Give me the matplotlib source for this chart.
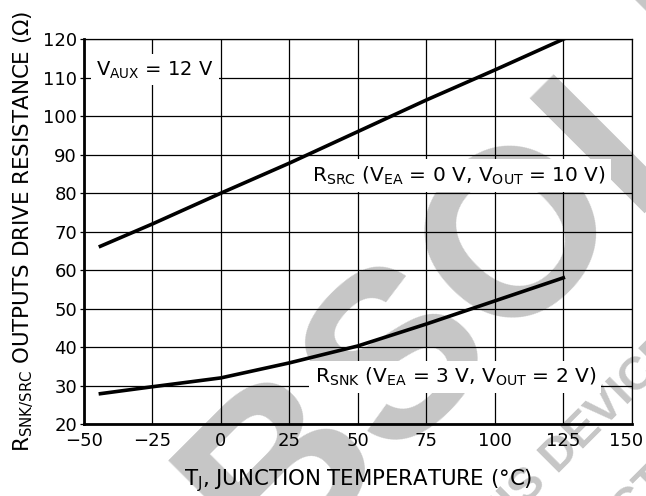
import matplotlib
matplotlib.use("Agg")
import matplotlib.pyplot as plt
import matplotlib.transforms as mtransforms

# junction temperature (C) and output drive resistance (ohm)
temp = [-44, -25, 0, 25, 50, 75, 100, 125]
r_src = [66.2, 72.0, 80.0, 87.8, 96.0, 104.2, 112.0, 120.0]
r_snk = [27.9, 29.7, 32.0, 35.9, 40.3, 46.0, 52.0, 58.0]

x_ticks = [-50, -25, 0, 25, 50, 75, 100, 125, 150]
x_labels = ["\u221250", "\u221225", "0", "25", "50", "75", "100", "125", "150"]
y_ticks = [20, 30, 40, 50, 60, 70, 80, 90, 100, 110, 120]

plt.rcParams['font.family'] = ['DejaVu Sans']
plt.rcParams['mathtext.fontset'] = 'custom'
plt.rcParams['mathtext.rm'] = 'DejaVu Sans'

fig = plt.figure(figsize=(6.46, 4.96), dpi=100)
ax = fig.add_axes([0.130, 0.145, 0.848, 0.776])
ax.patch.set_alpha(0)

# watermark behind everything
wm = '#c6c6c6'
fig.text(556/646, 1 - 206/496, "OBSOLETE", fontsize=170, fontweight='bold', color=wm,
         family='Liberation Sans', rotation=45, ha='center', va='center',
         rotation_mode='anchor', zorder=-5)
fig.text(472/646, 1 - 560/496, "THIS DEVICE IS NO LONGER", fontsize=34, fontweight='bold',
         family='Liberation Sans', color=wm, rotation=45, ha='left', va='baseline',
         rotation_mode='anchor', zorder=-5)
fig.text(465/646, 1 - 690/496, "IN PRODUCTION", fontsize=34, fontweight='bold',
         family='Liberation Sans', color=wm, rotation=45, ha='left', va='baseline',
         rotation_mode='anchor', zorder=-5)

ax.plot(temp, r_src, color='black', lw=2.6, zorder=3)
ax.plot(temp, r_snk, color='black', lw=2.6, zorder=3)

ax.set_xlim(-50, 150)
ax.set_ylim(20, 120)
ax.set_xticks(x_ticks)
ax.set_xticklabels(x_labels)
ax.set_yticks(y_ticks)
ax.grid(True, color='black', lw=0.9)
ax.set_axisbelow(True)
ax.tick_params(axis='x', length=0, labelsize=13, pad=6)
ax.tick_params(axis='y', length=3, width=0.9, labelsize=13, pad=2)

# last x label sits a little inside the figure edge
lab = ax.get_xticklabels()[-1]
lab.set_transform(lab.get_transform() + mtransforms.ScaledTranslation(-6/100, 0, fig.dpi_scale_trans))

for s in ['left', 'bottom']:
    ax.spines[s].set_linewidth(2.0)
for s in ['top', 'right']:
    ax.spines[s].set_linewidth(0.9)

ax.set_xlabel(r"T$_\mathregular{J}$, JUNCTION TEMPERATURE (°C)", fontsize=15.3, labelpad=12)
ax.set_ylabel(r"R$_\mathregular{SNK/SRC}$ OUTPUTS DRIVE RESISTANCE (Ω)", fontsize=15.4, labelpad=5)

box = dict(boxstyle='square,pad=0.25', facecolor='white', edgecolor='none')
ax.text(-24, 112, r"V$_\mathregular{AUX}$ = 12 V", fontsize=14, ha='center', va='center',
        bbox=box, zorder=4)
ax.text(87, 84.6, r"R$_\mathregular{SRC}$ (V$_\mathregular{EA}$ = 0 V, V$_\mathregular{OUT}$ = 10 V)",
        fontsize=14.5, ha='center', va='center', bbox=box, zorder=4)
ax.text(85.5, 32.3, r"R$_\mathregular{SNK}$ (V$_\mathregular{EA}$ = 3 V, V$_\mathregular{OUT}$ = 2 V)",
        fontsize=14.5, ha='center', va='center', bbox=box, zorder=4)

fig.savefig("out.png", dpi=100)
